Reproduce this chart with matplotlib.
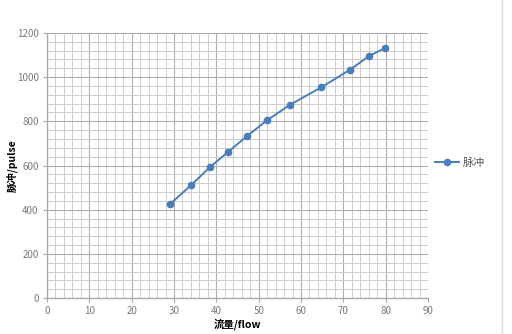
import matplotlib
matplotlib.use("Agg")
import matplotlib.pyplot as plt
from matplotlib.ticker import MultipleLocator
from matplotlib.lines import Line2D

plt.rcParams['font.family'] = ['Noto Sans CJK SC', 'DejaVu Sans']

flow = [29.1, 34.0, 38.5, 42.8, 47.3, 52.0, 57.4, 64.8, 71.6, 76.1, 79.8]
pulse = [426, 510, 593, 662, 734, 805, 875, 954, 1034, 1096, 1131]
series_name = "脉冲"
xlabel = "流量/flow"
ylabel = "脉冲/pulse"

fig = plt.figure(figsize=(5.12, 3.34), dpi=100)
ax = fig.add_axes([47/512, 1-298/334, (428-47)/512, (298-33)/334])

color = '#4A7EBB'
ax.plot(flow, pulse, color=color, lw=1.4, marker='o', ms=4.5, label=series_name)

ax.set_xlim(0, 90)
ax.set_ylim(0, 1200)
ax.xaxis.set_major_locator(MultipleLocator(10))
ax.xaxis.set_minor_locator(MultipleLocator(2))
ax.yaxis.set_major_locator(MultipleLocator(200))
ax.yaxis.set_minor_locator(MultipleLocator(40))
ax.grid(which='major', color='#ADADAD', lw=0.8)
ax.grid(which='minor', color='#CDCDCD', lw=0.7)
ax.set_axisbelow(True)

for s in ['top', 'right']:
    ax.spines[s].set_visible(False)
for s in ['left', 'bottom']:
    ax.spines[s].set_color('#A6A6A6')
    ax.spines[s].set_linewidth(0.9)

ax.tick_params(which='major', length=3, color='#A6A6A6', labelsize=7, labelcolor='#7A7A7A', pad=3)
ax.tick_params(which='minor', length=0)

ax.set_xlabel(xlabel, fontsize=7.5, fontweight='bold', labelpad=1)
ax.set_ylabel(ylabel, fontsize=7.5, fontweight='bold')
ax.yaxis.set_label_coords(-29/381, 0.5)

fig.legend(handles=[Line2D([0], [0], color=color, lw=1.4, marker='o', ms=4.5)],
           labels=[series_name], loc='center left', bbox_to_anchor=(425/512, 1-163/334),
           frameon=False, fontsize=8, handlelength=2.2, handletextpad=0.3,
           labelcolor='#595959')

fig.add_artist(Line2D([502/512, 502/512], [0, 1], color='#E0E0E0', lw=1, transform=fig.transFigure))

fig.savefig("out.png", dpi=100, facecolor='white')
